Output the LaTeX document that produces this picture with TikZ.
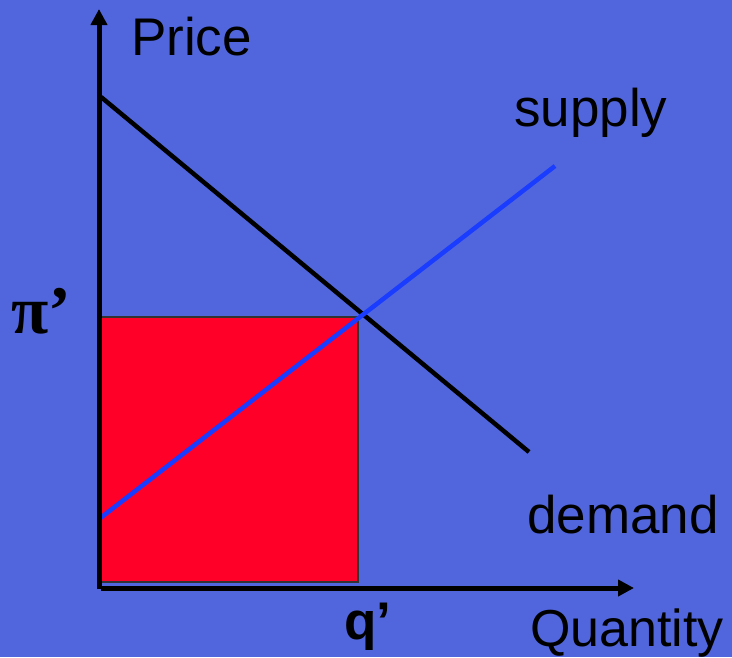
\documentclass[tikz,border=0pt]{standalone}
\usepackage{fontspec}
\setmainfont{Liberation Sans}
\newfontfamily\serifgr{Liberation Serif}
\usetikzlibrary{arrows.meta}
\definecolor{bgblue}{RGB}{81,102,221}
\definecolor{boxred}{RGB}{255,0,40}
\definecolor{supblue}{RGB}{25,60,255}
\tikzset{
  axisline/.style={line width=5pt,-{Triangle[length=16pt,width=16pt]}},
  curveline/.style={line width=4.5pt},
  lbl/.style={inner sep=0pt,anchor=base west,font=\fontsize{53}{60}\selectfont},
  pilbl/.style={inner sep=0pt,anchor=base west,font=\fontsize{68}{72}\selectfont\serifgr\bfseries},
}
\begin{document}
\begin{tikzpicture}[x=1pt,y=-1pt]
\fill[bgblue] (0,0) rectangle (732,657);
\useasboundingbox (0,0) rectangle (732,657);
\coordinate (o) at (99,589);
\coordinate (ytip) at (99,9);
\coordinate (xo) at (101,588);
\coordinate (xtip) at (634,588);
\coordinate (r1) at (101,317);
\coordinate (r2) at (358,582);
\coordinate (d1) at (101,97);
\coordinate (d2) at (529,452);
\coordinate (s1) at (99,519);
\coordinate (s2) at (555,166);
\draw[fill=boxred,draw=black!80,line width=2pt] (r1) rectangle (r2);
\draw[curveline,black] (d1) -- (d2);
\draw[curveline,supblue] (s1) -- (s2);
\draw[axisline] (o) -- (ytip);
\draw[axisline] (xo) -- (xtip);
\node[lbl] (price) at (131,55) {Price};
\node[lbl] (supply) at (514,126) {supply};
\node[lbl] (demand) at (527,533) {demand};
\node[lbl,font=\fontsize{52}{60}\selectfont] (quantity) at (530,646) {Quantity};
\node[pilbl] (pilabel) at (11,333) {π’};
\node[lbl] (qlabel) at (344,639) {\bfseries q’};
\end{tikzpicture}
\end{document}
